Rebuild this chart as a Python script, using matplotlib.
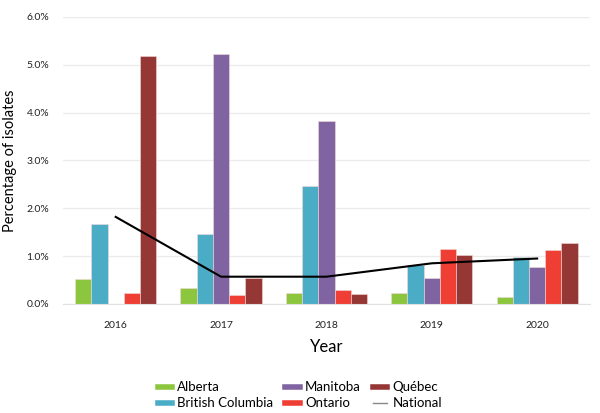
import numpy as np
import matplotlib
matplotlib.use("Agg")
import matplotlib.pyplot as plt
from matplotlib.lines import Line2D

plt.rcParams['font.family'] = ['Lato', 'DejaVu Sans']

# data (percent of isolates)
years = ['2016', '2017', '2018', '2019', '2020']
alberta = [0.52, 0.33, 0.22, 0.22, 0.15]
british_columbia = [1.67, 1.46, 2.47, 0.82, 0.98]
manitoba = [0.0, 5.23, 3.83, 0.54, 0.77]
ontario = [0.23, 0.19, 0.30, 1.14, 1.13]
quebec = [5.19, 0.54, 0.21, 1.02, 1.28]
national = [1.82, 0.57, 0.57, 0.85, 0.95]

names = ['Alberta', 'British Columbia', 'Manitoba', 'Ontario', 'Québec']
colors = ['#8cc63f', '#4bacc6', '#8064a2', '#ef3e33', '#953735']
series = [alberta, british_columbia, manitoba, ontario, quebec]

fig = plt.figure(figsize=(6, 4.13), dpi=100)
ax = fig.add_axes([0.105, 0.264, 0.878, 0.695])

x = np.arange(len(years))
w = 0.154
for i, (vals, c) in enumerate(zip(series, colors)):
    ax.bar(x + (i - 2) * w, np.array(vals) / 100, width=w, color=c,
           edgecolor='#f4d9d9', linewidth=0.4, zorder=2)

ax.plot(x, np.array(national) / 100, color='black', lw=1.5, zorder=3)

ax.set_xlim(-0.5, len(years) - 0.5)
ax.set_ylim(0, 0.06)
ax.set_yticks(np.arange(0, 0.061, 0.01))
ax.set_yticklabels(['%.1f%%' % (v * 100) for v in np.arange(0, 0.061, 0.01)])
ax.set_xticks(x)
ax.set_xticklabels(years)
ax.tick_params(length=0, labelsize=7.5, colors='#222222')
ax.tick_params(axis='x', pad=12)
ax.tick_params(axis='y', pad=10)
ax.grid(axis='y', color='#ebebeb', lw=1, zorder=0)
for s in ['top', 'right', 'left']:
    ax.spines[s].set_visible(False)
ax.spines['bottom'].set_color('#e0e0e0')

ax.set_ylabel('Percentage of isolates', fontsize=10.5, labelpad=7)
ax.set_xlabel('Year', fontsize=12, labelpad=7)

handles = [Line2D([0], [0], color=c, lw=4) for c in colors]
handles.append(Line2D([0], [0], color='#888888', lw=1))
labels = names + ['National']
fig.legend(handles, labels,
           loc='center', bbox_to_anchor=(0.5, 0.043), ncol=3, frameon=False,
           fontsize=9.5, handlelength=1.1, handletextpad=0.4,
           columnspacing=0.9, labelspacing=0.3, borderpad=0.2)

fig.savefig('out.png', dpi=100)
